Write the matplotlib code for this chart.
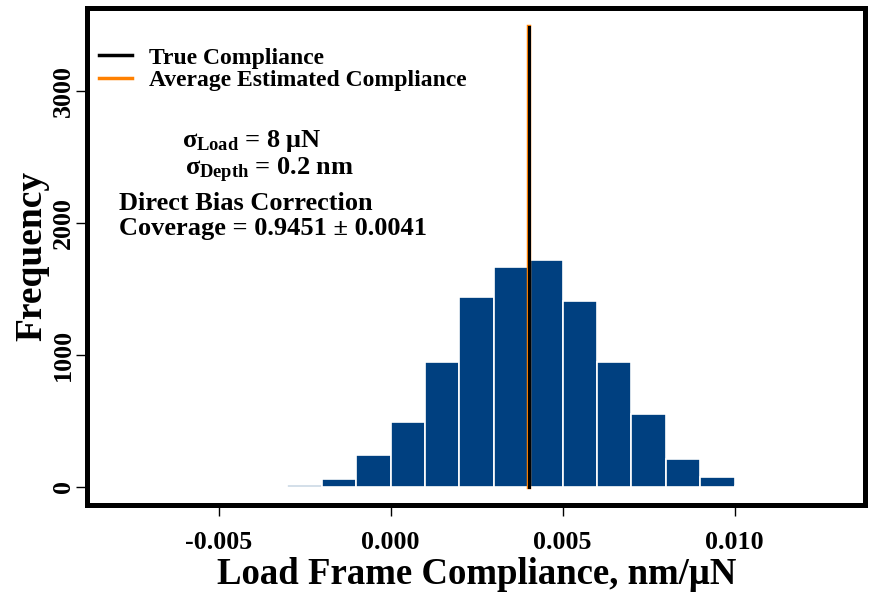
import numpy as np
import matplotlib
matplotlib.use("Agg")
import matplotlib.pyplot as plt

plt.rcParams['font.family'] = 'Liberation Serif'
plt.rcParams['font.weight'] = 'bold'
plt.rcParams['mathtext.fontset'] = 'custom'
plt.rcParams['mathtext.rm'] = 'Liberation Serif:bold'
plt.rcParams['mathtext.it'] = 'Liberation Serif:bold'
plt.rcParams['mathtext.bf'] = 'Liberation Serif:bold'

# histogram of estimated compliance (bin width 0.001 nm/uN)
bin_edges = np.arange(-0.008, 0.0135, 0.001)
counts = [1, 0, 0, 0, 3, 10, 62, 240, 490, 945, 1440, 1665, 1715,
          1405, 945, 550, 208, 70, 6, 3, 1]
true_c = 0.00401
avg_c = 0.00401
line_top = 3480

fig = plt.figure(figsize=(8.72, 5.93), dpi=100)
ax = fig.add_axes([0.1003, 0.1492, 0.8922, 0.8373])

ax.bar(bin_edges[:-1], counts, width=0.001, align='edge',
       color='#004080', edgecolor='white', linewidth=1.2)
ax.plot([avg_c, avg_c], [0, line_top], color='#ff8000', lw=3.2)
ax.plot([true_c, true_c], [0, line_top], color='black', lw=2.2)

# legend by proxies
h1, = ax.plot([], [], color='black', lw=2.5)
h2, = ax.plot([], [], color='#ff8000', lw=2.5)
ax.legend([h1, h2], ['True Compliance', 'Average Estimated Compliance'],
          loc='upper left', bbox_to_anchor=(-0.004, 0.95), frameon=False,
          handlelength=1.4, handletextpad=0.75, labelspacing=0.05,
          prop={'size': 17, 'weight': 'bold'}, borderaxespad=0.2)

ax.text(0.122, 0.733, r'$\sigma_{Load}$ = 8 $\mu$N', transform=ax.transAxes,
        fontsize=19, ha='left', va='center')
ax.text(0.126, 0.672, r'$\sigma_{Depth}$ = 0.2 nm', transform=ax.transAxes,
        fontsize=19, ha='left', va='center')
ax.text(0.04, 0.606, 'Direct Bias Correction', transform=ax.transAxes,
        fontsize=19, ha='left', va='center')
ax.text(0.04, 0.556, 'Coverage = 0.9451 ± 0.0041', transform=ax.transAxes,
        fontsize=19, ha='left', va='center')

ax.set_xlim(-0.00881, 0.0138)
ax.set_ylim(-135, 3626)
ax.set_xticks([-0.005, 0.0, 0.005, 0.010])
ax.set_xticklabels(['-0.005', '0.000', '0.005', '0.010'])
ax.set_yticks([0, 1000, 2000, 3000])
for lab in ax.get_yticklabels():
    lab.set_rotation(90)
    lab.set_va('center')
ax.tick_params(axis='x', direction='out', length=8, width=1, labelsize=18.7, pad=11)
ax.tick_params(axis='y', direction='out', length=8, width=1, labelsize=18.7, pad=1)

for s in ax.spines.values():
    s.set_linewidth(3.6)

ax.set_xlabel('Load Frame Compliance, nm/μN', fontsize=26.5, fontweight='bold', labelpad=2)
ax.set_ylabel('Frequency', fontsize=27, fontweight='bold', labelpad=2)

fig.savefig('out.png', dpi=100)
